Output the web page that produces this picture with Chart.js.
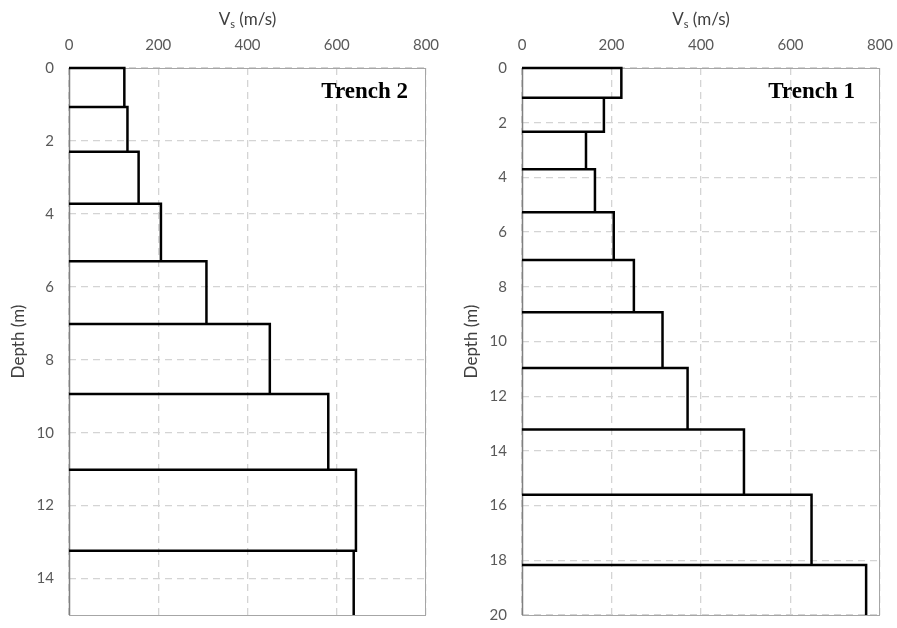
<!DOCTYPE html>
<html lang="en">
<head>
    <meta charset="UTF-8">
    <title>Vs profiles - Trench 2 / Trench 1</title>
    <script src="https://cdn.jsdelivr.net/npm/chart.js"></script>
    <style>
        body {
            margin: 0;
            background: #fff;
        }
        canvas {
            position: absolute;
            top: 0;
        }
        #trench2 { left: 0; }
        #trench1 { left: 449px; }
    </style>
</head>
<body>

    <canvas id="trench2" width="448" height="628"></canvas>
    <canvas id="trench1" width="448" height="628"></canvas>

    <script>
        // layer boundaries (m) and layer velocities (m/s)
        const trench2Depths = [0, 1.07, 2.30, 3.72, 5.30, 7.02, 8.94, 11.02, 13.24, 15];
        const trench2Vs = [124, 131, 156, 206, 308, 450, 581, 643, 638];

        const trench1Depths = [0, 1.09, 2.33, 3.70, 5.27, 7.02, 8.93, 10.97, 13.22, 15.6, 18.17, 20];
        const trench1Vs = [222, 183, 143, 163, 205, 250, 314, 370, 496, 647, 769];

        const vsTicks = [0, 200, 400, 600, 800];
        const trench2DepthTicks = [0, 2, 4, 6, 8, 10, 12, 14];
        const trench1DepthTicks = [0, 2, 4, 6, 8, 10, 12, 14, 16, 18, 20];
        const trench2DepthMax = 15;
        const trench1DepthMax = 20;

        const labelFont = 'Lato, "Open Sans", sans-serif';

        // step outline: top edge of each layer, then its right edge
        function stepPoints(depths, vs) {
            const pts = [];
            vs.forEach((v, i) => {
                pts.push({ x: 0, y: depths[i] });
                pts.push({ x: v, y: depths[i] });
                pts.push({ x: v, y: depths[i + 1] });
                if (i < vs.length - 1) pts.push({ x: 0, y: depths[i + 1] });
            });
            return pts;
        }

        const framePlugin = {
            id: 'frame',
            beforeDatasetsDraw(chart) {
                const a = chart.chartArea;
                const ctx = chart.ctx;
                ctx.save();
                ctx.strokeStyle = '#a6a6a6';
                ctx.lineWidth = 1;
                ctx.strokeRect(a.left + 0.5, a.top + 0.5, a.right - a.left - 1, a.bottom - a.top);
                // left axis line is a bit darker
                ctx.strokeStyle = '#808080';
                ctx.lineWidth = 1.5;
                ctx.beginPath();
                ctx.moveTo(a.left + 0.5, a.top);
                ctx.lineTo(a.left + 0.5, a.bottom);
                ctx.stroke();
                ctx.restore();
            },
            afterDatasetsDraw(chart, args, opts) {
                const a = chart.chartArea;
                const ctx = chart.ctx;
                ctx.save();
                ctx.fillStyle = '#000';
                ctx.font = 'bold 23px "Liberation Serif", "Times New Roman", serif';
                ctx.textAlign = 'right';
                ctx.textBaseline = 'alphabetic';
                ctx.fillText(opts.label, a.right - opts.inset, a.top + 30);

                // axis title with a subscript s
                const big = '17px ' + labelFont;
                const small = '11px ' + labelFont;
                ctx.fillStyle = '#404040';
                ctx.textAlign = 'left';
                ctx.font = big;
                const wV = ctx.measureText('V').width;
                const wRest = ctx.measureText(' (m/s)').width;
                ctx.font = small;
                const wS = ctx.measureText('s').width;
                let x = (a.left + a.right) / 2 - (wV + wS + wRest) / 2;
                const base = 25;
                ctx.font = big;
                ctx.fillText('V', x, base);
                x += wV;
                ctx.font = small;
                ctx.fillText('s', x, base + 3);
                x += wS;
                ctx.font = big;
                ctx.fillText(' (m/s)', x, base);
                ctx.restore();
            }
        };

        function makeChart(id, depths, vs, depthMax, depthTicks, label, g) {
            const tickFont = { family: labelFont, size: 15 };
            return new Chart(document.getElementById(id), {
                type: 'scatter',
                data: {
                    datasets: [{
                        data: stepPoints(depths, vs),
                        showLine: true,
                        borderColor: '#000',
                        borderWidth: 2.5,
                        pointRadius: 0,
                        tension: 0,
                        fill: false,
                        clip: 4
                    }]
                },
                options: {
                    responsive: false,
                    animation: false,
                    devicePixelRatio: 1,
                    layout: { padding: { left: 0, right: g.right, top: 0, bottom: 13 } },
                    plugins: {
                        legend: { display: false },
                        tooltip: { enabled: false },
                        frame: { label: label, inset: g.inset }
                    },
                    scales: {
                        x: {
                            type: 'linear',
                            position: 'top',
                            min: vsTicks[0],
                            max: vsTicks[vsTicks.length - 1],
                            afterBuildTicks: s => { s.ticks = vsTicks.map(v => ({ value: v })); },
                            afterFit: s => {
                                s.height = 68;
                                s.paddingLeft = 0;
                                s.paddingRight = 0;
                            },
                            ticks: { font: tickFont, color: '#595959', padding: 14 },
                            grid: { color: '#d4d4d4', lineWidth: 1.3, drawTicks: false },
                            border: { display: false, dash: [7, 5] }
                        },
                        y: {
                            type: 'linear',
                            reverse: true,
                            min: 0,
                            max: depthMax,
                            afterBuildTicks: s => { s.ticks = depthTicks.map(v => ({ value: v })); },
                            afterFit: s => {
                                s.width = g.left;
                                s.paddingTop = 0;
                                s.paddingBottom = 0;
                            },
                            ticks: { font: tickFont, color: '#595959', padding: 15 },
                            grid: { color: '#d4d4d4', lineWidth: 1.3, drawTicks: false },
                            border: { display: false, dash: [7, 5] },
                            title: {
                                display: true,
                                text: 'Depth (m)',
                                font: { family: labelFont, size: 17 },
                                color: '#404040',
                                padding: { top: g.titlePad, bottom: 0 }
                            }
                        }
                    }
                },
                plugins: [framePlugin]
            });
        }

        makeChart('trench2', trench2Depths, trench2Vs, trench2DepthMax, trench2DepthTicks, 'Trench 2',
            { left: 69, right: 22, inset: 18, titlePad: 8 });
        makeChart('trench1', trench1Depths, trench1Vs, trench1DepthMax, trench1DepthTicks, 'Trench 1',
            { left: 73, right: 17, inset: 25, titlePad: 12 });
    </script>

</body>
</html>
